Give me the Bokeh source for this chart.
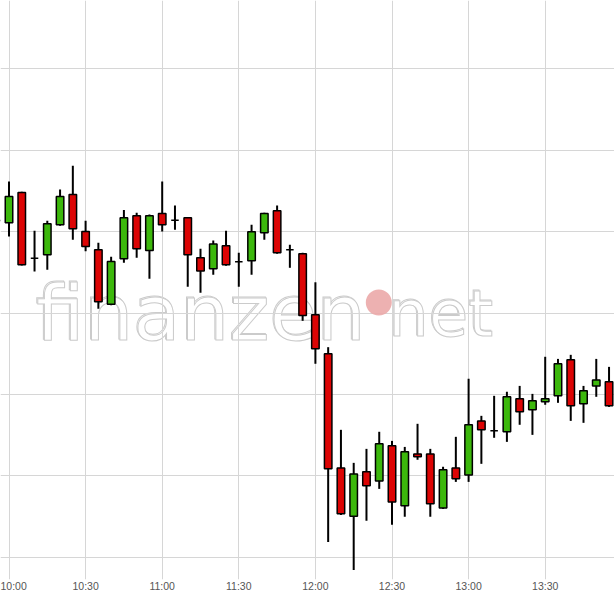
from bokeh.plotting import figure
from bokeh.models import Range1d, FixedTicker, Label, Div, ColumnDataSource
from bokeh.layouts import column
from bokeh.embed import file_html
from bokeh.resources import INLINE

# 5-minute candles
times = ["09:55", "10:00", "10:05", "10:10", "10:15", "10:20", "10:25", "10:30",
         "10:35", "10:40", "10:45", "10:50", "10:55", "11:00", "11:05", "11:10",
         "11:15", "11:20", "11:25", "11:30", "11:35", "11:40", "11:45", "11:50",
         "11:55", "12:00", "12:05", "12:10", "12:15", "12:20", "12:25", "12:30",
         "12:35", "12:40", "12:45", "12:50", "12:55", "13:00", "13:05", "13:10",
         "13:15", "13:20", "13:25", "13:30", "13:35", "13:40", "13:45", "13:50",
         "13:55"]
opens = [12.069, 12.055, 12.241, 11.837, 11.858, 12.042, 12.229, 12.001,
         11.889, 11.554, 11.833, 12.098, 11.884, 12.112, 12.071, 12.085,
         11.839, 11.772, 11.913, 11.815, 11.821, 11.993, 12.128, 11.889,
         11.864, 11.489, 11.249, 10.548, 10.251, 10.524, 10.468, 10.684,
         10.315, 10.634, 10.634, 10.302, 10.548, 10.505, 10.837, 10.776,
         10.770, 10.973, 10.905, 10.954, 10.991, 11.212, 10.942, 11.052,
         11.077]
highs = [12.106, 12.308, 12.245, 12.005, 12.067, 12.259, 12.405, 12.067,
         11.932, 11.846, 12.134, 12.116, 12.106, 12.308, 12.161, 12.089,
         11.895, 11.946, 12.005, 11.870, 12.042, 12.116, 12.161, 11.919,
         11.870, 11.689, 11.290, 10.782, 10.579, 10.665, 10.770, 10.714,
         10.677, 10.819, 10.665, 10.555, 10.739, 11.096, 10.868, 10.991,
         11.016, 11.052, 11.003, 11.231, 11.218, 11.243, 11.052, 11.218,
         11.169]
lows = [12.019, 11.970, 11.792, 11.755, 11.766, 12.036, 11.950, 11.880,
        11.526, 11.548, 11.809, 11.839, 11.710, 12.001, 12.012, 11.661,
        11.624, 11.735, 11.790, 11.661, 11.735, 11.950, 11.864, 11.778,
        11.452, 11.188, 10.093, 10.259, 9.921, 10.223, 10.419, 10.198,
        10.247, 10.598, 10.247, 10.296, 10.462, 10.462, 10.573, 10.733,
        10.708, 10.813, 10.751, 10.936, 10.948, 10.837, 10.825, 10.985,
        10.923]
closes = [12.069, 12.216, 11.796, 11.837, 12.048, 12.216, 12.018, 11.909,
          11.569, 11.817, 12.085, 11.895, 12.098, 12.042, 12.071, 11.858,
          11.759, 11.925, 11.796, 11.815, 11.999, 12.112, 11.870, 11.889,
          11.485, 11.280, 10.542, 10.266, 10.511, 10.438, 10.696, 10.339,
          10.647, 10.616, 10.327, 10.536, 10.481, 10.813, 10.782, 10.776,
          10.985, 10.893, 10.960, 10.973, 11.188, 10.930, 11.022, 11.089,
          10.930]

tick_labels = ["10:00", "10:30", "11:00", "11:30", "12:00", "12:30", "13:00", "13:30", "14:00"]
price_grid = [10.0, 10.5, 11.0, 11.5, 12.0, 12.5, 13.0]

GREEN = "#3cb80c"
RED = "#dc0404"


def to_min(t):
    h, m = t.split(":")
    return int(h) * 60 + int(m)


xs = [to_min(t) for t in times]
tick_x = [to_min(t) for t in tick_labels]

src = ColumnDataSource(dict(
    x=xs,
    top=[max(o, c) for o, c in zip(opens, closes)],
    bottom=[min(o, c) for o, c in zip(opens, closes)],
    high=highs,
    low=lows,
    color=[GREEN if c >= o else RED for o, c in zip(opens, closes)],
))

p = figure(width=614, height=597, output_backend="svg", toolbar_location=None,
           x_range=Range1d(596.67, 837.14), y_range=Range1d(9.862, 13.421),
           y_axis_location=None, min_border=0, min_border_bottom=18)
p.outline_line_color = None
p.background_fill_color = "white"
p.border_fill_color = "white"

# grid
p.xgrid.ticker = FixedTicker(ticks=tick_x)
p.ygrid.ticker = FixedTicker(ticks=price_grid)
p.xgrid.grid_line_color = "#d6d6d6"
p.ygrid.grid_line_color = "#d6d6d6"
p.xgrid.grid_line_width = 1
p.ygrid.grid_line_width = 1

# x axis
ax = p.xaxis[0]
ax.ticker = FixedTicker(ticks=tick_x)
ax.major_label_overrides = {tx: lab for tx, lab in zip(tick_x, tick_labels)}
ax.axis_line_color = None
ax.major_tick_line_color = None
ax.minor_tick_line_color = None
ax.major_tick_in = 0
ax.major_tick_out = 0
ax.major_label_standoff = 0
ax.major_label_text_font = "Liberation Sans"
ax.major_label_text_font_size = "10.5px"
ax.major_label_text_color = "#555555"

# watermark: white letters with a grey outline (two offset copies thicken it)
WM = [("finanzen", 610.4, "77px"), ("net", 748.4, "64px")]
for txt, wx, fs in WM:
    for dx, dy in [(-0.6, 0.6), (0.4, -0.4)]:
        p.add_layout(Label(x=wx, y=11.497, x_offset=dx, y_offset=dy, text=txt,
                           text_font="DejaVu Sans", text_font_size=fs,
                           text_color="white", text_outline_color="#cbcbcb",
                           text_baseline="alphabetic", text_align="left",
                           level="image"))
p.scatter(x=[744.83], y=[11.5645], size=26, color="#eba8a8", line_color=None, alpha=0.9)

# candles
p.segment(x0="x", y0="low", x1="x", y1="high", source=src, line_color="black", line_width=2)
p.vbar(x="x", top="top", bottom="bottom", width=2.94, source=src,
       fill_color="color", line_color="black", line_width=1.5)

bar = Div(width=614, height=3, styles={"background-color": "#666666"})
layout = column(p, bar, spacing=0)

open("out.html", "w").write(file_html(layout, INLINE))
